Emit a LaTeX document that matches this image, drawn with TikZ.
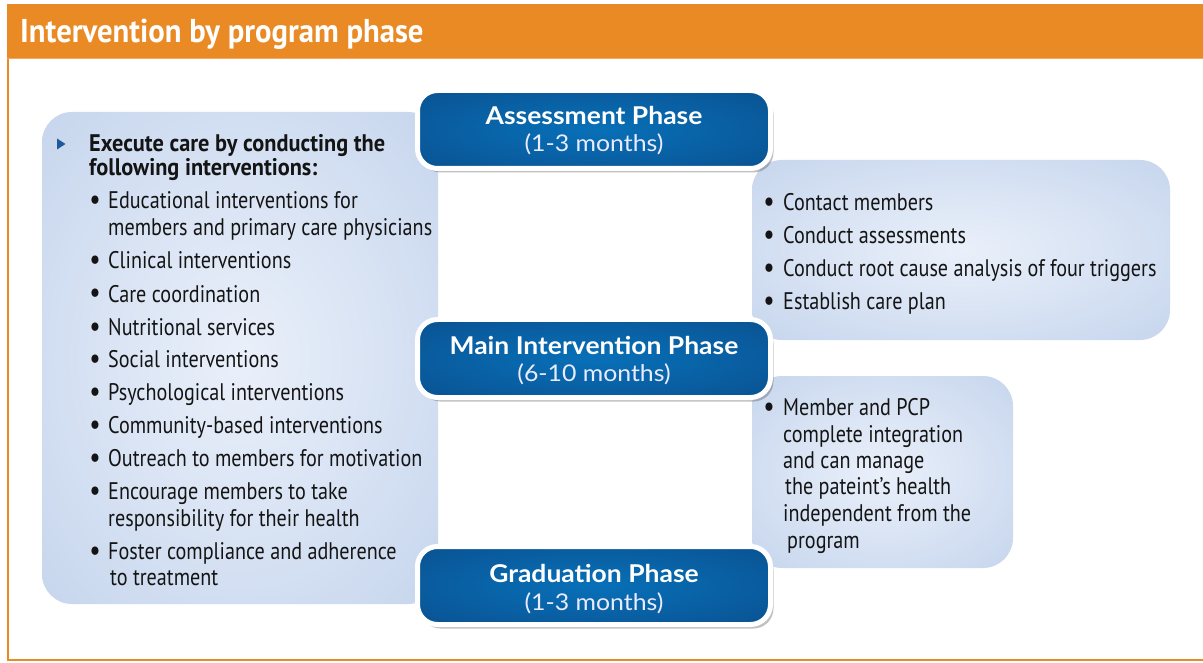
\documentclass[tikz,border=0pt]{standalone}
\usepackage{fontspec}
\setmainfont{PT Sans}[FakeStretch=0.84]
\newfontfamily\bfam{PT Sans}[FakeStretch=0.93]
\newfontfamily\phasefont{Lato}[FakeStretch=1.08]
\usetikzlibrary{shadows}
\definecolor{orangeA}{RGB}{234,138,37}
\definecolor{orangeL}{RGB}{244,170,90}
\definecolor{lightin}{RGB}{234,240,250}
\definecolor{lightout}{RGB}{184,203,232}
\definecolor{blueIn}{RGB}{8,112,184}
\definecolor{blueOut}{RGB}{10,70,130}
\definecolor{triblue}{RGB}{30,90,155}
\definecolor{ink}{RGB}{20,20,20}
\pgfdeclareradialshading{softlight}{\pgfpoint{0bp}{0bp}}{color(0bp)=(lightin); color(50bp)=(lightout); color(100bp)=(lightout)}
\pgfdeclareradialshading{softblue}{\pgfpoint{0bp}{0bp}}{color(0bp)=(blueIn); color(50bp)=(blueOut); color(100bp)=(blueOut)}
\tikzset{
  lightbox/.style={shading=softlight, rounded corners=30pt},
  phasebox/.style={shading=softblue, draw=white, line width=5pt, rounded corners=20pt,
    minimum width=353pt, minimum height=78pt, inner sep=0pt,
    drop shadow={shadow xshift=3pt, shadow yshift=-4pt, opacity=0.35, fill=black!70}},
  phasetitle/.style={anchor=base, inner sep=0pt, text=white, font=\phasefont\bfseries\fontsize{24.5}{28}\selectfont},
  phasesub/.style={anchor=base, inner sep=0pt, text=white!92!blue, font=\phasefont\fontsize{23}{27}\selectfont},
  txt/.style={anchor=base west, inner sep=0pt, text=ink, font=\fontsize{24}{28}\selectfont},
  boldtxt/.style={txt, font=\bfam\bfseries\fontsize{24}{28}\selectfont},
  bul/.style={anchor=base, inner sep=0pt, text=ink, font=\fontsize{30}{30}\selectfont},
}
\begin{document}
\begin{tikzpicture}[x=1pt,y=-1pt]
\useasboundingbox (0,0) rectangle (1203,663);
\fill[white] (0,0) rectangle (1203,663);
% frame and banner
\draw[orangeA, line width=2.2pt] (8,4) -- (8,660) -- (1203,660);
\fill[orangeA] (7,4) rectangle (1203,59);
\draw[orangeL, line width=1pt] (7,58.5) -- (1203,58.5);
\node[anchor=base west, inner sep=0pt, text=white, font=\bfam\bfseries\fontsize{33}{40}\selectfont] (title) at (20,43) {Intervention by program phase};

% light boxes
\path[lightbox] (42,112) rectangle (438,604);
\path[lightbox] (752,160) rectangle (1170,340);
\path[lightbox] (752,376) rectangle (1013,568);

% left box content
\fill[triblue] (57,138.5) -- (65.5,144) -- (57,149.5) -- cycle;
\node[boldtxt] (l0a) at (89,152) {Execute care by conducting the};
\node[boldtxt] (l0b) at (89,176) {following interventions:};
\foreach \n/\y/\t in {l1/209/{Educational interventions for},
                      l3/269/{Clinical interventions},
                      l4/302/{Care coordination},
                      l5/335/{Nutritional services},
                      l6/367/{Social interventions},
                      l7/400/{Psychological interventions},
                      l8/433/{Community-based interventions},
                      l9/466/{Outreach to members for motivation},
                      l10/499/{Encourage members to take},
                      l12/559/{Foster compliance and adherence}}{
  \node[bul] (\n b) at (95,\y+1) {•};
  \node[txt] (\n) at (108,\y) {\t};
}
\node[txt] (l2) at (108,236) {members and primary care physicians};
\node[txt] (l11) at (108,526) {responsibility for their health};
\node[txt] (l13) at (110,585) {to treatment};

% right top content
\foreach \n/\y/\t in {r1/211/{Contact members},
                      r2/244/{Conduct assessments},
                      r3/277/{Conduct root cause analysis of four triggers},
                      r4/309/{Establish care plan}}{
  \node[bul] (\n b) at (769,\y+1) {•};
  \node[txt] (\n) at (783,\y) {\t};
}

% right bottom content
\node[bul] (m1b) at (769,416) {•};
\node[txt] (m1) at (783,415) {Member and PCP};
\node[txt] (m2) at (783,442) {complete integration};
\node[txt] (m3) at (783,468) {and can manage};
\node[txt] (m4) at (785,494) {the pateint’s health};
\node[txt] (m5) at (783,521) {independent from the};
\node[txt] (m6) at (787,548) {program};

% phase boxes
\node[phasebox] (assess) at (594,129.5) {};
\node[phasetitle] (assessT) at (594,125) {Assessment Phase};
\node[phasesub] (assessS) at (594,152) {(1-3 months)};

\node[phasebox] (main) at (594,358.5) {};
\node[phasetitle] (mainT) at (594,354) {Main Intervention Phase};
\node[phasesub] (mainS) at (594,381) {(6-10 months)};

\node[phasebox] (grad) at (594,585.5) {};
\node[phasetitle] (gradT) at (594,582) {Graduation Phase};
\node[phasesub] (gradS) at (594,610) {(1-3 months)};
\end{tikzpicture}
\end{document}
